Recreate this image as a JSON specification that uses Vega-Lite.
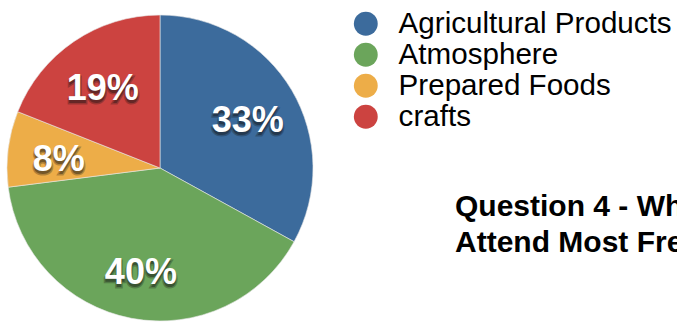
{
  "$schema": "https://vega.github.io/schema/vega-lite/v6.json",
  "width": 320,
  "height": 336,
  "autosize": {"type": "none"},
  "padding": {"left": 0, "top": 0, "right": 357, "bottom": 0},
  "background": "white",
  "config": {"view": {"stroke": null}},
  "title": {
    "text": ["Question 4 - What Makes You", "Attend Most Frequently?"],
    "anchor": "start",
    "frame": "group",
    "orient": "top",
    "offset": 0,
    "dx": 455,
    "dy": 282,
    "baseline": "alphabetic",
    "font": "Liberation Sans",
    "fontSize": 30,
    "fontWeight": "bold",
    "color": "#000000",
    "lineHeight": 36
  },
  "data": {
    "values": [
      {"category": "Agricultural Products", "value": 33, "label": "33%", "order": 1},
      {"category": "Atmosphere", "value": 40, "label": "40%", "order": 2},
      {"category": "Prepared Foods", "value": 8, "label": "8%", "order": 3},
      {"category": "crafts", "value": 19, "label": "19%", "order": 4}
    ]
  },
  "encoding": {
    "theta": {"field": "value", "type": "quantitative", "stack": true},
    "order": {"field": "order", "type": "quantitative"}
  },
  "layer": [
    {
      "mark": {"type": "arc", "outerRadius": 153, "stroke": "#e8e8e8", "strokeWidth": 0.6},
      "encoding": {
        "color": {
          "field": "category",
          "type": "nominal",
          "sort": null,
          "scale": {
            "domain": ["Agricultural Products", "Atmosphere", "Prepared Foods", "crafts"],
            "range": ["#3c6b9c", "#6ba55b", "#edad48", "#cc4340"]
          },
          "legend": {
            "orient": "none",
            "legendX": 351,
            "legendY": 9,
            "title": null,
            "symbolType": "circle",
            "symbolSize": 570,
            "symbolOpacity": 1,
            "symbolStrokeWidth": 0,
            "labelFontSize": 29.6,
            "labelFont": "Liberation Sans",
            "labelColor": "#000000",
            "labelLimit": 400,
            "labelOffset": 18,
            "rowPadding": 0,
            "padding": 0
          }
        }
      }
    },
    {
      "mark": {"type": "text", "radius": 102, "font": "Liberation Sans", "fontWeight": "bold", "fontSize": 36, "dy": 8, "opacity": 0.55, "stroke": "#111111", "strokeWidth": 3, "strokeOpacity": 0.5},
      "encoding": {"text": {"field": "label"}, "color": {"value": "#111111"}}
    },
    {
      "mark": {"type": "text", "radius": 102, "font": "Liberation Sans", "fontWeight": "bold", "fontSize": 36, "dy": 5},
      "encoding": {"text": {"field": "label"}, "color": {"value": "#ffffff"}}
    }
  ]
}
